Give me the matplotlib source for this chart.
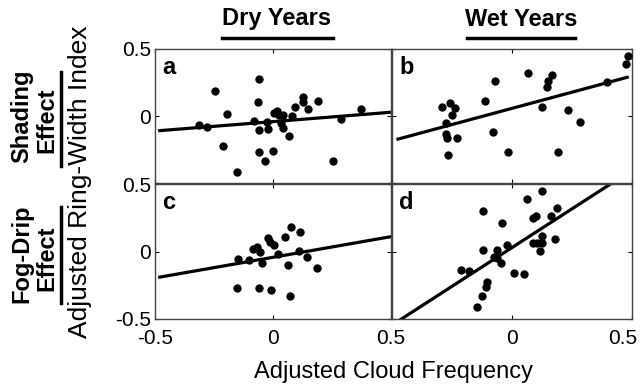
import matplotlib
matplotlib.use("Agg")
import matplotlib.pyplot as plt
from matplotlib.lines import Line2D
from matplotlib.transforms import ScaledTranslation
import numpy as np

plt.rcParams["font.family"] = ["Liberation Sans", "DejaVu Sans"]

# valores (x = frequência de nuvens ajustada, y = índice ajustado)
a_x = [-0.313, -0.278, -0.247, -0.213, -0.194, -0.151, -0.079, -0.065, -0.059, -0.059,
       -0.058, -0.034, -0.027, -0.021, -0.001, 0.004, 0.016, 0.027, 0.033, 0.044,
       0.044, 0.069, 0.082, 0.095, 0.129, 0.129, 0.148, 0.192, 0.256, 0.287, 0.374]
a_y = [-0.065, -0.085, 0.184, -0.224, 0.015, -0.415, -0.035, 0.104, 0.279, -0.104,
       -0.266, -0.333, -0.047, -0.100, -0.264, 0.020, 0.040, 0.010, -0.055, 0.010,
       -0.090, -0.147, 0.002, 0.065, 0.144, 0.102, 0.052, 0.109, -0.333, -0.025, 0.052]

b_x = [-0.293, -0.258, -0.239, -0.251, -0.276, -0.275, -0.272, -0.228, -0.265, -0.111,
       -0.072, -0.078, -0.015, 0.068, 0.126, 0.144, 0.151, 0.167, 0.190, 0.233,
       0.283, 0.396, 0.474, 0.485]
b_y = [0.065, 0.097, 0.057, 0.010, -0.050, -0.134, -0.164, -0.164, -0.289, 0.112,
       0.264, -0.122, -0.271, 0.323, 0.070, 0.214, 0.264, 0.306, -0.266, 0.047,
       -0.047, 0.251, 0.388, 0.450]

c_x = [-0.154, -0.147, -0.103, -0.086, -0.069, -0.055, -0.045, -0.059, -0.021, -0.013,
       0.004, -0.008, 0.020, 0.052, 0.065, 0.078, 0.073, 0.113, 0.112, 0.145, 0.188]
c_y = [-0.268, -0.056, -0.063, 0.019, 0.036, 0.000, -0.083, -0.268, 0.102, 0.068,
       0.048, -0.285, -0.019, 0.105, -0.100, 0.179, -0.330, 0.142, 0.004, -0.038, -0.120]

d_x = [0.124, 0.061, 0.186, -0.122, 0.089, 0.100, 0.164, -0.042, 0.125, 0.086,
       0.106, 0.125, 0.181, 0.118, -0.021, -0.122, -0.061, -0.075, -0.064, -0.046,
       -0.214, -0.178, 0.010, 0.049, -0.106, -0.110, -0.124, -0.144]
d_y = [0.448, 0.391, 0.325, 0.302, 0.250, 0.263, 0.263, 0.209, 0.115, 0.065,
       0.060, 0.060, 0.095, 0.004, 0.048, 0.011, 0.009, -0.043, -0.048, -0.088,
       -0.137, -0.142, -0.162, -0.167, -0.223, -0.265, -0.330, -0.414]

# retas de regressão (inclinação, intercepto)
fits = {"a": (0.14, -0.042), "b": (0.483, 0.057), "c": (0.306, -0.043), "d": (1.148, 0.029)}
fit_x = {"a": (-0.48, 0.5), "b": (-0.475, 0.48), "c": (-0.48, 0.5), "d": (-0.5, 0.5)}

col_titles = ["Dry Years", "Wet Years"]
row_titles = [("Shading", "Effect"), ("Fog-Drip", "Effect")]

W, H = 643, 387
fig = plt.figure(figsize=(W / 100, H / 100), dpi=100)


def px_axes(l, t, r, b):
    return fig.add_axes([l / W, 1 - b / H, (r - l) / W, (b - t) / H])


panels = {
    "a": (px_axes(155, 49, 391, 183), a_x, a_y),
    "b": (px_axes(392, 49, 632, 183), b_x, b_y),
    "c": (px_axes(155, 184, 391, 319), c_x, c_y),
    "d": (px_axes(392, 184, 632, 319), d_x, d_y),
}

for key, (ax, xs, ys) in panels.items():
    ax.scatter(xs, ys, s=36, color="black", zorder=3, linewidths=0)
    m, q = fits[key]
    xl = np.array(fit_x[key])
    ax.plot(xl, m * xl + q, color="black", lw=2.3, zorder=2)
    ax.set_xlim(-0.5, 0.5)
    ax.set_ylim(-0.5, 0.5)
    ax.set_xticks([-0.5, 0, 0.5])
    ax.set_yticks([-0.5, 0, 0.5])
    ax.tick_params(direction="in", length=3, width=0.8, top=True, right=True,
                   labelsize=15, colors="black")
    ax.tick_params(axis="x", pad=7)
    ax.tick_params(axis="y", pad=3)
    for sp in ax.spines.values():
        sp.set_color("#444444")
        sp.set_linewidth(1.0)
    ax.text(0.03, 0.95, key, transform=ax.transAxes, fontsize=17,
            fontweight="bold", va="top", ha="left")

# rótulos dos eixos: só a coluna esquerda / linha de baixo
pa, pb, pc, pd = (panels[k][0] for k in "abcd")
pa.set_xticklabels([])
pb.set_xticklabels([])
pb.set_yticklabels([])
pd.set_yticklabels([])
pa.set_yticklabels(["", "0", "0.5"])
pc.set_yticklabels(["-0.5", "0", "0.5"])
pc.set_xticklabels(["-0.5", "0", "0.5"])
pd.set_xticklabels(["", "0", "0.5"])
# o último rótulo encosta na borda: puxa um pouco para dentro
last = pd.get_xticklabels()[-1]
last.set_transform(last.get_transform() + ScaledTranslation(-0.09, 0, fig.dpi_scale_trans))

fig.text(393 / W, 1 - 372 / H, "Adjusted Cloud Frequency", ha="center", va="center",
         fontsize=17)
fig.text(80 / W, 1 - 182 / H, "Adjusted Ring-Width Index", ha="center", va="center",
         fontsize=19, rotation=90)

# títulos das colunas, sublinhados
for cx, (u0, u1), txt in zip([277, 521], [(222, 333), (467, 575)], col_titles):
    fig.text(cx / W, 1 - 19 / H, txt, ha="center", va="center", fontsize=17,
             fontweight="bold")
    fig.add_artist(Line2D([u0 / W, u1 / W], [1 - 38 / H, 1 - 38 / H],
                          color="black", lw=2.5, transform=fig.transFigure))

# títulos das linhas, sublinhados
for cy, (v0, v1), (t1, t2) in zip([116, 254], [(72, 166), (207, 303)], row_titles):
    fig.text(22 / W, 1 - cy / H, t1, ha="center", va="center", fontsize=17,
             fontweight="bold", rotation=90)
    fig.text(47 / W, 1 - (cy + 4) / H, t2, ha="center", va="center", fontsize=17,
             fontweight="bold", rotation=90)
    fig.add_artist(Line2D([61 / W, 61 / W], [1 - v0 / H, 1 - v1 / H],
                          color="black", lw=2.5, transform=fig.transFigure))

fig.savefig("out.png", dpi=100)
